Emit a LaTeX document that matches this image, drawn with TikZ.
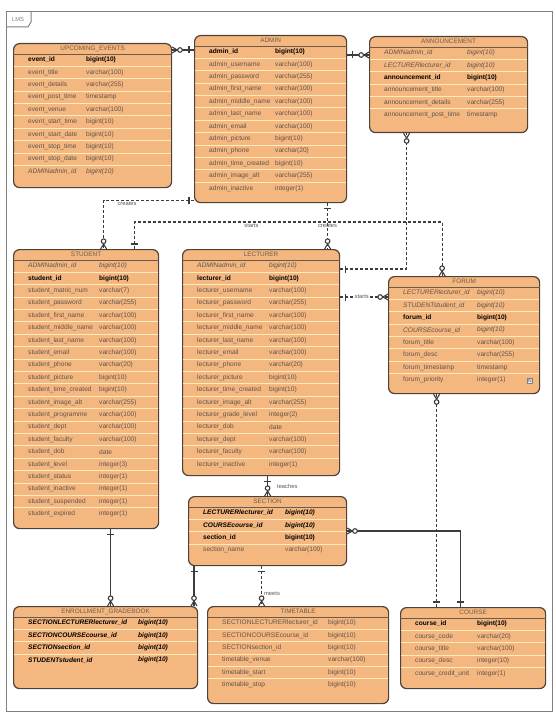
\documentclass[tikz,border=0pt]{standalone}
\usepackage{fontspec}
\setmainfont{Liberation Sans}
\usetikzlibrary{arrows.meta}

\definecolor{entityfill}{RGB}{245,183,128}
\definecolor{entityline}{RGB}{77,66,56}
\definecolor{rowcream}{RGB}{255,236,186}
\definecolor{textgray}{RGB}{92,84,78}
\definecolor{titlegray}{RGB}{110,90,74}
\definecolor{relgray}{RGB}{60,60,60}

\pgfdeclarearrow{
  name = crowzero,
  setup code = {
    \pgfarrowssettipend{0pt}
    \pgfarrowssetlineend{0pt}
    \pgfarrowssetbackend{-11pt}
    \pgfarrowssetvisualbackend{-11pt}
  },
  drawing code = {
    \pgfsetdash{}{0pt}
    \pgfpathmoveto{\pgfqpoint{0pt}{3pt}}
    \pgfpathlineto{\pgfqpoint{-5pt}{0pt}}
    \pgfpathlineto{\pgfqpoint{0pt}{-3pt}}
    \pgfusepathqstroke
    \pgfpathcircle{\pgfqpoint{-7.8pt}{0pt}}{2.3pt}
    \pgfsetfillcolor{white}
    \pgfusepathqfillstroke
  }
}
\pgfdeclarearrow{
  name = barone,
  setup code = {
    \pgfarrowssettipend{0pt}
    \pgfarrowssetlineend{0pt}
    \pgfarrowssetbackend{-6pt}
    \pgfarrowssetvisualbackend{-6pt}
  },
  drawing code = {
    \pgfsetdash{}{0pt}
    \pgfpathmoveto{\pgfqpoint{-5pt}{3.5pt}}
    \pgfpathlineto{\pgfqpoint{-5pt}{-3.5pt}}
    \pgfusepathqstroke
  }
}

\newcommand{\pk}[1]{\textcolor{black}{\textbf{#1}}}
\newcommand{\fk}[1]{\textit{#1}}
\newcommand{\pf}[1]{\textcolor{black}{\textbf{\textit{#1}}}}

% one table: name, top left, width, height, title, type column, rows
\newcommand{\entity}[7]{%
  \node[entity, minimum width=#3, minimum height=#4] (#1) at (#2) {};
  \node[entitytitle] (#1-title) at ([yshift=-5.5pt]#1.north) {#5};
  \draw[titleline] ([yshift=-11pt]#1.north west) -- ([yshift=-11pt]#1.north east);
  \foreach \fname/\ftype [count=\i] in {#7} {
    \ifnum\i>1
      \draw[rowline] ([xshift=1pt, yshift={-10.8pt-(\i-1)*12.4pt}]#1.north west)
        -- ([xshift=-1pt, yshift={-10.8pt-(\i-1)*12.4pt}]#1.north east);
    \fi
    \node[field] (#1-n\i) at ([xshift=15pt, yshift={-17pt-(\i-1)*12.4pt}]#1.north west) {\fname};
    \node[field] (#1-t\i) at ([xshift=#6, yshift={-17pt-(\i-1)*12.4pt}]#1.north west) {\ftype};
  }
}

\begin{document}
\begin{tikzpicture}[x=1pt, y=-1pt,
  entity/.style={draw=entityline, fill=entityfill, line width=1.2pt,
    rounded corners=6pt, anchor=north west, inner sep=0pt},
  entitytitle/.style={text=titlegray, inner sep=0pt,
    font=\fontsize{6.4}{7}\selectfont},
  titleline/.style={draw=titlegray, line width=0.8pt},
  rowline/.style={draw=rowcream, line width=0.9pt},
  field/.style={anchor=west, inner sep=0pt, text=textgray,
    font=\fontsize{6.6}{7.5}\selectfont},
  solidrel/.style={draw=relgray, line width=1.1pt},
  dashrel/.style={draw=relgray, line width=1.1pt, dash pattern=on 3pt off 2pt},
  lbl/.style={text=textgray, inner sep=1pt, font=\fontsize{5.8}{6.5}\selectfont},
  lmsframe/.style={draw=gray, line width=1pt}]

  \useasboundingbox (0,0) rectangle (556,722);
  \draw[lmsframe] (6,12) rectangle (552,711);
  \draw[lmsframe] (6,27) -- (28,27) -- (31,22) -- (31,12);
  \node[lbl, text=gray] (lms) at (18,19.5) {LMS};

  \entity{events}{13,43}{158pt}{144pt}{UPCOMING\_EVENTS}{73pt}{
    \pk{event\_id}/\pk{bigint(10)},
    event\_title/varchar(100),
    event\_details/varchar(255),
    event\_post\_time/timestamp,
    event\_venue/varchar(100),
    event\_start\_time/bigint(10),
    event\_start\_date/bigint(10),
    event\_stop\_time/bigint(10),
    event\_stop\_date/bigint(10),
    \fk{ADMINadmin\_id}/\fk{bigint(10)}}

  \entity{admin}{194,35}{152pt}{167pt}{ADMIN}{81pt}{
    \pk{admin\_id}/\pk{bigint(10)},
    admin\_username/varchar(100),
    admin\_password/varchar(255),
    admin\_first\_name/varchar(100),
    admin\_middle\_name/varchar(100),
    admin\_last\_name/varchar(100),
    admin\_email/varchar(100),
    admin\_picture/bigint(10),
    admin\_phone/varchar(20),
    admin\_time\_created/bigint(10),
    admin\_image\_alt/varchar(255),
    admin\_inactive/integer(1)}

  \entity{announce}{369,36}{158pt}{96pt}{ANNOUNCEMENT}{98pt}{
    \fk{ADMINadmin\_id}/\fk{bigint(10)},
    \fk{LECTURERlecturer\_id}/\fk{bigint(10)},
    \pk{announcement\_id}/\pk{bigint(10)},
    announcement\_title/varchar(100),
    announcement\_details/varchar(255),
    announcement\_post\_time/timestamp}

  \entity{student}{13,249}{145pt}{279pt}{STUDENT}{86pt}{
    \fk{ADMINadmin\_id}/\fk{bigint(10)},
    \pk{student\_id}/\pk{bigint(10)},
    student\_matric\_num/varchar(7),
    student\_password/varchar(255),
    student\_first\_name/varchar(100),
    student\_middle\_name/varchar(100),
    student\_last\_name/varchar(100),
    student\_email/varchar(100),
    student\_phone/varchar(20),
    student\_picture/bigint(10),
    student\_time\_created/bigint(10),
    student\_image\_alt/varchar(255),
    student\_programme/varchar(100),
    student\_dept/varchar(100),
    student\_faculty/varchar(100),
    student\_dob/date,
    student\_level/integer(3),
    student\_status/integer(1),
    student\_inactive/integer(1),
    student\_suspended/integer(1),
    student\_expired/integer(1)}

  \entity{lecturer}{182,249}{157pt}{226pt}{LECTURER}{87pt}{
    \fk{ADMINadmin\_id}/\fk{bigint(10)},
    \pk{lecturer\_id}/\pk{bigint(10)},
    lecturer\_username/varchar(100),
    lecturer\_password/varchar(255),
    lecturer\_first\_name/varchar(100),
    lecturer\_middle\_name/varchar(100),
    lecturer\_last\_name/varchar(100),
    lecturer\_email/varchar(100),
    lecturer\_phone/varchar(20),
    lecturer\_picture/bigint(10),
    lecturer\_time\_created/bigint(10),
    lecturer\_image\_alt/varchar(255),
    lecturer\_grade\_level/integer(2),
    lecturer\_dob/date,
    lecturer\_dept/varchar(100),
    lecturer\_faculty/varchar(100),
    lecturer\_inactive/integer(1)}

  \entity{forum}{388,276}{151pt}{117pt}{FORUM}{89pt}{
    \fk{LECTURERlecturer\_id}/\fk{bigint(10)},
    \fk{STUDENTstudent\_id}/\fk{bigint(10)},
    \pk{forum\_id}/\pk{bigint(10)},
    \fk{COURSEcourse\_id}/\fk{bigint(10)},
    forum\_title/varchar(100),
    forum\_desc/varchar(255),
    forum\_timestamp/timestamp,
    forum\_priority/integer(1)}
  \node[draw=gray, fill=blue!8, inner sep=0.8pt, font=\fontsize{5}{5}\selectfont\bfseries,
    text=gray] (forum-note) at (530,381) {N};

  \entity{section}{188,496}{158pt}{69pt}{SECTION}{97pt}{
    \pf{LECTURERlecturer\_id}/\pf{bigint(10)},
    \pf{COURSEcourse\_id}/\pf{bigint(10)},
    \pk{section\_id}/\pk{bigint(10)},
    section\_name/varchar(100)}

  \entity{enroll}{13,606}{184pt}{82pt}{ENROLLMENT\_GRADEBOOK}{125pt}{
    \pf{SECTIONLECTURERlecturer\_id}/\pf{bigint(10)},
    \pf{SECTIONCOURSEcourse\_id}/\pf{bigint(10)},
    \pf{SECTIONsection\_id}/\pf{bigint(10)},
    \pf{STUDENTstudent\_id}/\pf{bigint(10)}}

  \entity{timetable}{207,606}{181pt}{97pt}{TIMETABLE}{121pt}{
    SECTIONLECTURERlecturer\_id/bigint(10),
    SECTIONCOURSEcourse\_id/bigint(10),
    SECTIONsection\_id/bigint(10),
    timetable\_venue/varchar(100),
    timetable\_start/bigint(10),
    timetable\_stop/bigint(10)}

  \entity{course}{400,607}{145pt}{81pt}{COURSE}{77pt}{
    \pk{course\_id}/\pk{bigint(10)},
    course\_code/varchar(20),
    course\_title/varchar(100),
    course\_desc/integer(10),
    course\_credit\_unit/integer(1)}

  % relationships
  \coordinate (ev1) at ([yshift=-7pt]events.north east);
  \draw[solidrel, {crowzero}-{barone}] (ev1) -- (ev1 -| admin.west);
  \coordinate (ad1) at ([yshift=-20pt]admin.north east);
  \draw[solidrel, {barone}-{crowzero}] (ad1) -- (ad1 -| announce.west);

  \coordinate (ad2) at ([yshift=3pt]admin.south west);
  \coordinate (st1) at ([xshift=17.5pt]student.north);
  \draw[dashrel, {barone}-{crowzero}] (ad2) -| node[pos=0.37, below, lbl] {creates} (st1);
  \coordinate (ad3) at ([xshift=57pt]admin.south);
  \draw[dashrel, {barone}-{crowzero}] (ad3) -- node[lbl] {creates} (ad3 |- lecturer.north);

  \coordinate (st2) at ([xshift=48.5pt]student.north);
  \coordinate (fo1) at ([xshift=-22pt]forum.north);
  \draw[dashrel, {barone}-{crowzero}] (st2) -- (st2 |- 0,222) -| node[pos=0.19, below, lbl] {starts} (fo1);

  \coordinate (le1) at ([yshift=-20pt]lecturer.north east);
  \coordinate (an1) at ([xshift=-42pt]announce.south);
  \draw[dashrel, {barone}-{crowzero}] (le1) -| (an1);
  \coordinate (le2) at ([yshift=-48pt]lecturer.north east);
  \draw[dashrel, {barone}-{crowzero}] (le2) -- node[pos=0.45, lbl, fill=white, inner sep=0.5pt] {starts} (le2 -| forum.west);

  \coordinate (le3) at (section.north |- lecturer.south);
  \draw[solidrel, {barone}-{crowzero}] (le3) -- node[right=8pt, lbl] {teaches} (section.north);

  \coordinate (se1) at ([yshift=-35pt]section.north east);
  \coordinate (co1) at ([xshift=-12.5pt]course.north);
  \draw[solidrel, {crowzero}-{barone}] (se1) -| (co1);
  \coordinate (fo2) at ([xshift=-27.5pt]forum.south);
  \draw[dashrel, {crowzero}-{barone}] (fo2) -- (fo2 |- course.north);

  \coordinate (st3) at ([xshift=24.5pt]student.south);
  \draw[solidrel, {barone}-{crowzero}] (st3) -- (st3 |- enroll.north);
  \coordinate (se2) at ([xshift=6pt]section.south west);
  \draw[solidrel, {barone}-{crowzero}] (se2) -- (se2 |- enroll.north);
  \coordinate (se3) at ([xshift=-6pt]section.south);
  \draw[dashrel, {barone}-{crowzero}] (se3) -- node[pos=0.68, right=1pt, lbl] {meets} (se3 |- timetable.north);

\end{tikzpicture}
\end{document}
